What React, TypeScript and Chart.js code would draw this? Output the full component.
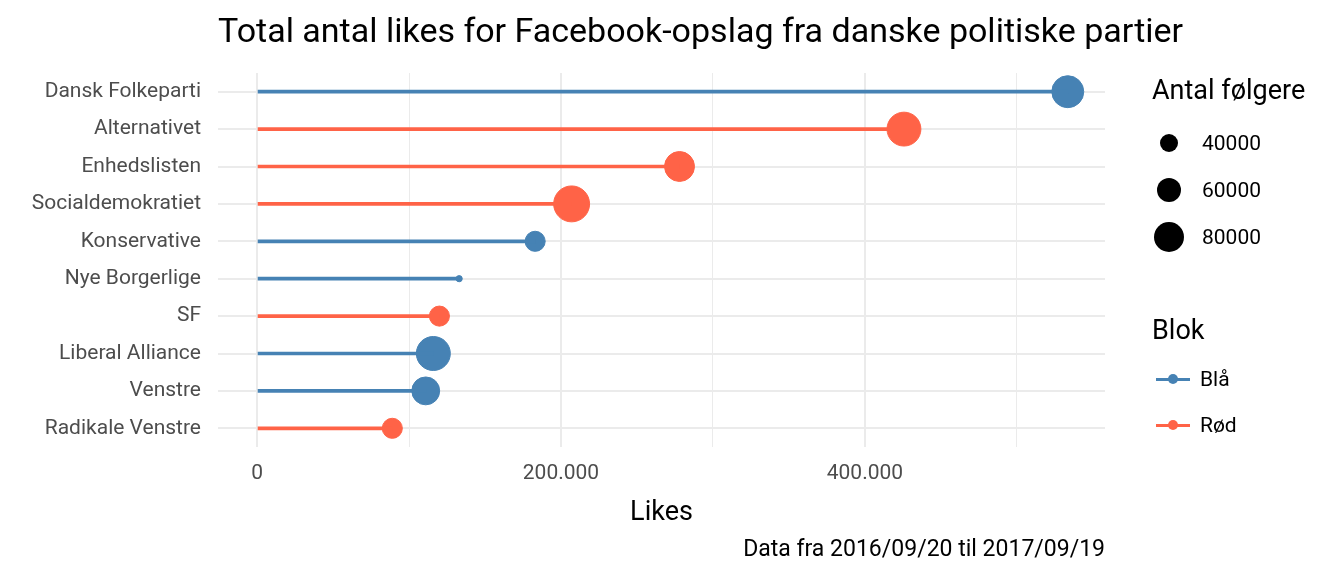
import { useEffect, useRef } from "react";
import Chart from "chart.js/auto";

const parties = [
  "Dansk Folkeparti",
  "Alternativet",
  "Enhedslisten",
  "Socialdemokratiet",
  "Konservative",
  "Nye Borgerlige",
  "SF",
  "Liberal Alliance",
  "Venstre",
  "Radikale Venstre",
];
const likes = [533500, 425700, 278000, 207000, 183000, 133000, 120000, 116000, 111000, 89000];
const followers = [88000, 96000, 80000, 105000, 46000, 14000, 46000, 96500, 72000, 46000];
const blok = ["Blå", "Rød", "Rød", "Rød", "Blå", "Blå", "Rød", "Blå", "Blå", "Rød"];
const sizeBreaks = [40000, 60000, 80000];
const blokNames = ["Blå", "Rød"];

const BLUE = "#4682B4";
const RED = "#FF6347";
const FONT = "'Liberation Sans Narrow', Roboto, sans-serif";

const colorOf = (b: string) => (b === "Blå" ? BLUE : RED);
const radius = (f: number) => 9 + (Math.sqrt(f) - 200) * (6 / 83);

export default function App() {
  const canvasRef = useRef<HTMLCanvasElement>(null);

  useEffect(() => {
    if (!canvasRef.current) return;
    const colors = blok.map(colorOf);
    const chart = new Chart(canvasRef.current, {
      type: "bar",
      data: {
        labels: parties,
        datasets: [
          {
            type: "bar",
            data: likes,
            backgroundColor: colors,
            barThickness: 3,
          } as any,
          {
            type: "scatter",
            data: parties.map((p, i) => ({ x: likes[i], y: p })),
            backgroundColor: colors,
            borderColor: colors,
            pointRadius: followers.map(radius),
            pointHoverRadius: followers.map(radius),
            showLine: false,
          } as any,
        ],
      },
      options: {
        animation: false,
        responsive: false,
        indexAxis: "y",
        layout: { padding: { top: 73, bottom: 89, left: 0, right: 239 } },
        plugins: { legend: { display: false }, tooltip: { enabled: false } },
        scales: {
          x: {
            type: "linear",
            min: -25700,
            max: 558000,
            afterBuildTicks: (s: any) => {
              s.ticks = [0, 100000, 200000, 300000, 400000, 500000].map((v) => ({ value: v }));
            },
            afterFit: (s: any) => {
              s.height = 40;
            },
            border: { display: false },
            grid: {
              drawTicks: false,
              color: "#ebebeb",
              lineWidth: (c: any) => (c.tick && c.tick.value % 200000 === 0 ? 2 : 1),
            },
            ticks: {
              padding: 14,
              color: "#4d4d4d",
              font: { family: FONT, size: 21 },
              callback: (v: any) =>
                v % 200000 === 0 ? Number(v).toLocaleString("da-DK") : "",
            },
          },
          y: {
            type: "category",
            afterFit: (s: any) => {
              s.width = 218;
            },
            border: { display: false },
            grid: { drawTicks: false, color: "#ebebeb", lineWidth: 2, offset: false },
            ticks: { padding: 17, color: "#4d4d4d", font: { family: FONT, size: 21 } },
          },
        },
      } as any,
    });
    return () => chart.destroy();
  }, []);

  return (
    <div
      style={{
        position: "fixed",
        left: 0,
        top: 0,
        width: 1344,
        height: 576,
        background: "#fff",
        fontFamily: FONT,
        color: "#000",
      }}
    >
      <canvas ref={canvasRef} width={1344} height={576} style={{ position: "absolute", left: 0, top: 0 }} />
      <div style={{ position: "absolute", left: 218, top: 10, fontSize: 34, whiteSpace: "nowrap" }}>
        Total antal likes for Facebook-opslag fra danske politiske partier
      </div>
      <div style={{ position: "absolute", left: 218, width: 887, top: 495, fontSize: 27, textAlign: "center" }}>
        Likes
      </div>
      <div style={{ position: "absolute", right: 1344 - 1105, top: 535, fontSize: 23, whiteSpace: "nowrap" }}>
        Data fra 2016/09/20 til 2017/09/19
      </div>
      <div style={{ position: "absolute", left: 1152, top: 74, fontSize: 27 }}>Antal følgere</div>
      {sizeBreaks.map((b, i) => (
        <div key={b} style={{ position: "absolute", left: 1152, top: 126 + i * 47, height: 34, display: "flex", alignItems: "center" }}>
          <div style={{ width: 34, display: "flex", justifyContent: "center" }}>
            <div style={{ width: radius(b) * 2, height: radius(b) * 2, borderRadius: "50%", background: "#000" }} />
          </div>
          <span style={{ marginLeft: 16, fontSize: 21 }}>{b}</span>
        </div>
      ))}
      <div style={{ position: "absolute", left: 1152, top: 314, fontSize: 27 }}>Blok</div>
      {blokNames.map((b, i) => (
        <div key={b} style={{ position: "absolute", left: 1156, top: 362 + i * 46, height: 34, display: "flex", alignItems: "center" }}>
          <div style={{ position: "relative", width: 34, height: 3, background: colorOf(b) }}>
            <div style={{ position: "absolute", left: 12, top: -3.5, width: 10, height: 10, borderRadius: "50%", background: colorOf(b) }} />
          </div>
          <span style={{ marginLeft: 10, fontSize: 21 }}>{b}</span>
        </div>
      ))}
    </div>
  );
}
